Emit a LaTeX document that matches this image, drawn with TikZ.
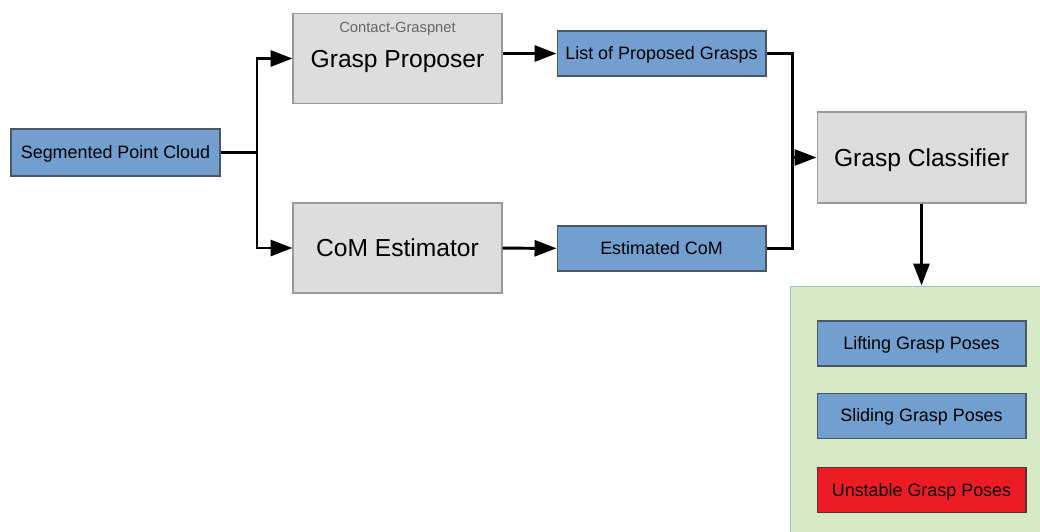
\documentclass[tikz,border=0pt]{standalone}
\usepackage{fontspec}
\setmainfont{Liberation Sans}
\usetikzlibrary{arrows.meta, positioning}
\definecolor{boxblue}{HTML}{729FCF}
\definecolor{blueline}{HTML}{4A5866}
\definecolor{boxgray}{HTML}{DDDDDD}
\definecolor{grayline}{HTML}{9A9A9A}
\definecolor{boxgreen}{HTML}{D5EAC5}
\definecolor{greenline}{HTML}{A7C0D6}
\definecolor{boxred}{HTML}{ED1C24}
\definecolor{redline}{HTML}{5A3030}
\definecolor{notegray}{HTML}{666666}

\begin{document}
\begin{tikzpicture}[x=0.02cm,y=-0.02cm,node distance=0.52cm,
    every node/.style={font=\fontsize{10.2}{12}\selectfont, text height=7.3pt, text depth=0pt},
    bluebox/.style={draw=blueline, fill=boxblue, line width=0.6pt, minimum width=4.18cm, minimum height=0.9cm, inner sep=0pt},
    graybox/.style={draw=grayline, fill=boxgray, line width=0.6pt, minimum width=4.18cm, minimum height=1.8cm, inner sep=0pt, font=\fontsize{14}{16}\selectfont, text height=10pt},
    flow/.style={line width=1.7pt, -{Triangle[length=0.44cm, width=0.32cm]}},
    link/.style={line width=1.7pt}]
    \clip (0,0) rectangle (1040,531);

    % output area
    \node[draw=greenline, fill=boxgreen, line width=0.6pt, minimum width=5.2cm, minimum height=5.2cm] (result) at (920,416) {};

    \node[bluebox, minimum height=0.94cm] (seg) at (115.5,152.5) {Segmented Point Cloud};
    \node[graybox] (gp) at (397.5,58.5) {Grasp Proposer};
    \node[font=\fontsize{8.4}{10}\selectfont, text height=6pt, text=notegray, inner sep=0pt] (gpnote) at ([yshift=-0.28cm]gp.north) {Contact-Graspnet};
    \node[graybox] (com) at (397.5,248) {CoM Estimator};
    \node[bluebox] (list) at (661.5,53.5) {List of Proposed Grasps};
    \node[bluebox] (estcom) at (661.5,248.5) {Estimated CoM};
    \node[graybox, minimum height=1.82cm] (gc) at (921.5,157.5) {Grasp Classifier};

    \node[bluebox] (lift) at (921.5,343.5) {Lifting Grasp Poses};
    \node[bluebox] (slide) [below=of lift] {Sliding Grasp Poses};
    \node[bluebox, fill=boxred, draw=redline] (unstable) [below=0.56cm of slide] {Unstable Grasp Poses};

    \coordinate (split) at (257,152.5);
    \coordinate (merge) at (792,157.5);

    \draw[link] (seg) -- (split);
    \draw[flow] (split) |- (gp);
    \draw[flow] (split) |- (com);
    \draw[flow] (gp.east |- list) -- (list);
    \draw[flow] (com) -- (estcom);
    \draw[link] (list) -| (merge);
    \draw[link] (estcom) -| (merge);
    \draw[flow] (merge) -- (gc);
    \draw[flow] (gc) -- (gc.south |- result.north);
\end{tikzpicture}
\end{document}
